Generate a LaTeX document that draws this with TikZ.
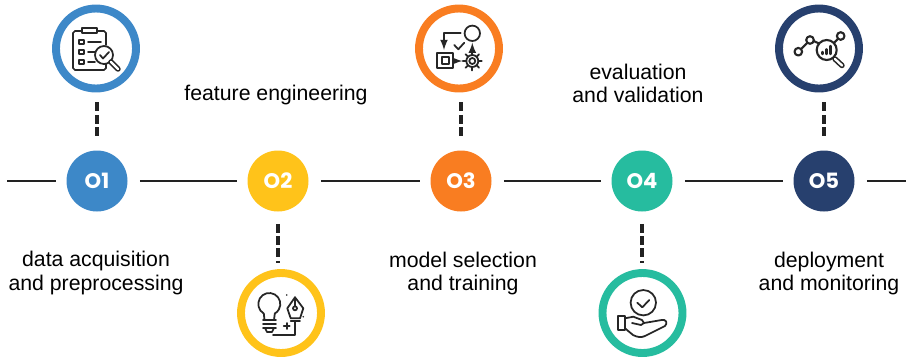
\documentclass[tikz,border=0pt]{standalone}
\usepackage{fontspec}
\setmainfont{Liberation Sans}
\newfontfamily\numfont{Poppins}
\definecolor{stepBlue}{HTML}{3D88C8}
\definecolor{stepYellow}{HTML}{FFC31A}
\definecolor{stepOrange}{HTML}{F97D21}
\definecolor{stepTeal}{HTML}{26BC9F}
\definecolor{stepNavy}{HTML}{27406E}
\definecolor{lineGray}{HTML}{222222}
\tikzset{
    stepDot/.style={circle,fill=#1,minimum size=1.22cm,inner sep=0pt,text=white,font=\numfont\bfseries\fontsize{12}{12}\selectfont},
    iconRing/.style={circle,draw=#1,fill=white,line width=4.5pt,minimum size=1.6cm,inner sep=0pt},
    timeLine/.style={line width=1.6pt,draw=lineGray,shorten >=0.21cm},
    timeLineBoth/.style={timeLine,shorten <=0.24cm},
    stemLine/.style={line width=2pt,draw=lineGray,dash pattern=on 5pt off 2pt},
    caption/.style={align=center,font=\fontsize{12.1}{13.3}\selectfont,inner sep=0pt},
    icon/.style={line width=1pt,draw=black!85,line cap=round,line join=round},
    iconHandle/.style={line width=0.9pt,draw=black!85,double=white,double distance=1.3pt,line cap=round}
}
\begin{document}
\begin{tikzpicture}[x=0.2mm,y=-0.2mm]
    \useasboundingbox (0,0) rectangle (906,358);

    % steps
    \node[stepDot=stepBlue] (o1) at (97,181) {O1};
    \node[stepDot=stepYellow] (o2) at (278,181) {O2};
    \node[stepDot=stepOrange] (o3) at (461,181) {O3};
    \node[stepDot=stepTeal] (o4) at (642,181) {O4};
    \node[stepDot=stepNavy] (o5) at (824,181) {O5};
    \coordinate (lineStart) at (7,181);
    \coordinate (lineEnd) at (906,181);

    % step - step
    \draw[timeLine] (lineStart) -- (o1);
    \draw[timeLineBoth] (o1) -- (o2);
    \draw[timeLineBoth] (o2) -- (o3);
    \draw[timeLineBoth] (o3) -- (o4);
    \draw[timeLineBoth] (o4) -- (o5);
    \draw[timeLine,shorten >=0pt,shorten <=0.24cm] (o5) -- (lineEnd);

    % rings
    \node[iconRing=stepBlue] (ring1) at (96,48.5) {};
    \node[iconRing=stepYellow] (ring2) at (281,313) {};
    \node[iconRing=stepOrange] (ring3) at (459,48.5) {};
    \node[iconRing=stepTeal] (ring4) at (642.5,313) {};
    \node[iconRing=stepNavy] (ring5) at (819,48.5) {};

    % step - ring
    \draw[stemLine,shorten <=0.2cm,shorten >=0.24cm] (ring1.south -| o1.north) -- (o1.north);
    \draw[stemLine,shorten <=0.24cm,shorten >=0.12cm] (o2.south) -- (o2.south |- ring2.north);
    \draw[stemLine,shorten <=0.2cm,shorten >=0.24cm] (ring3.south -| o3.north) -- (o3.north);
    \draw[stemLine,shorten <=0.24cm,shorten >=0.12cm] (o4.south) -- (o4.south |- ring4.north);
    \draw[stemLine,shorten <=0.2cm,shorten >=0.24cm] (ring5.south -| o5.north) -- (o5.north);

    % captions
    \node[caption] (cap1) at (96,273) {data acquisition\\and preprocessing};
    \node[caption] (cap2) at (276,95) {feature engineering};
    \node[caption] (cap3) at (463,273.5) {model selection\\and training};
    \node[caption] (cap4) at (638,83.5) {evaluation\\and validation};
    \node[caption] (cap5) at (829,273.5) {deployment\\and monitoring};

    % icon 1
    \draw[icon] (82,31) -- (75,31) -- (73,33) -- (73,68) -- (75,70) -- (104,70) -- (106,68) -- (106,64);
    \draw[icon] (97,31) -- (104,31) -- (106,33) -- (106,45);
    \draw[icon] (82,28) rectangle (97,33);
    \draw[icon] (79,40) rectangle (84,44);
    \draw[icon] (79,50) rectangle (84,54);
    \draw[icon] (79,60) rectangle (84,64);
    \draw[icon] (88,42) -- (101,42);
    \draw[icon] (88,52) -- (95,52);
    \draw[icon] (88,62) -- (95,62);
    \draw[icon] (104,55) circle[radius=9];
    \draw[icon] (100,55) -- (103,58.5) -- (109,52);
    \draw[iconHandle] (111,62) -- (118,69);

    % icon 2
    \draw[icon] (269.3,304) ++(120:11) arc[start angle=120,end angle=420,radius=11];
    \draw[icon] (263.8,313.5) -- (264.5,320);
    \draw[icon] (274.8,313.5) -- (274,320);
    \draw[icon] (263,320) -- (276,320);
    \draw[icon] (263,324) -- (276,324);
    \draw[icon] (263,328) -- (276,328);
    \draw[icon] (265,328) -- (267,332) -- (272,332) -- (274,328);
    \draw[icon] (295,297.3) -- (287.3,308.3) -- (290.7,318.3) -- (300,318.3) -- (303.3,308.3) -- cycle;
    \draw[icon] (295,297.3) -- (295,306);
    \draw[icon] (295,308.3) circle[radius=2];
    \draw[icon] (290.7,321) -- (300,321);
    \draw[icon] (273,335) -- (295,335) -- (295,321);
    \draw[icon] (283.7,326) -- (289.7,326);
    \draw[icon] (286.7,323) -- (286.7,329);
    \fill[black!85] (286.7,295) circle[radius=0.9];
    \fill[black!85] (303.3,316.7) circle[radius=0.9];

    % icon 3
    \draw[icon] (472.3,33.3) circle[radius=7.7];
    \draw[icon,-latex] (460.7,33.3) -- (444,33.3) -- (444,50);
    \draw[icon] (454.3,45) -- (458.3,49.3) -- (464.3,42.7);
    \draw[icon] (437.3,53.3) rectangle (453.3,68.3);
    \draw[icon] (441.7,57.3) rectangle (449,64);
    \draw[icon,-latex] (453.3,61) -- (462.3,61);
    \draw[icon,-latex] (472.3,53) -- (472.3,42.7);
    \draw[icon] (472.3,61) circle[radius=6];
    \draw[icon] (472.3,61) circle[radius=3];
    \foreach \ang in {0,45,...,315}
        \draw[icon] (472.3,61) ++(\ang:6) -- ++(\ang:3.5);

    % icon 4
    \draw[icon] (643.3,302.7) circle[radius=12.7];
    \draw[icon] (637.3,302.7) -- (642.3,307.3) -- (649.3,300);
    \draw[icon] (617.7,316) rectangle (625,330);
    \draw[icon] (625,318.3) -- (633.3,316.7) -- (642,320) -- (644,323) -- (641,325) -- (632,323);
    \draw[icon] (644,323) -- (661.7,320) .. controls (666,319) and (668,323) .. (665,326) -- (645,336) .. controls (641,338) and (637,337) .. (633,335) -- (625,328.3);

    % icon 5
    \draw[icon,line width=1.2pt] (798.3,51.7) circle[radius=3.8];
    \draw[icon,line width=1.2pt] (810,40) circle[radius=3.8];
    \draw[icon,line width=1.2pt] (840.7,36) circle[radius=3.8];
    \draw[icon,line width=1.2pt] (826.7,50) circle[radius=10];
    \draw[icon,line width=1.2pt] (801,49) -- (807.3,42.7);
    \draw[icon,line width=1.2pt] (813.7,41) -- (819,43.5);
    \draw[icon,line width=1.2pt] (834,43) -- (838,38.7);
    \draw[iconHandle] (835,59) -- (842,65.5);
    \draw[icon,line width=1.4pt] (822.3,54) -- (822.3,52);
    \draw[icon,line width=1.4pt] (826.7,54) -- (826.7,49.3);
    \draw[icon,line width=1.4pt] (830.7,54) -- (830.7,46);
\end{tikzpicture}
\end{document}
